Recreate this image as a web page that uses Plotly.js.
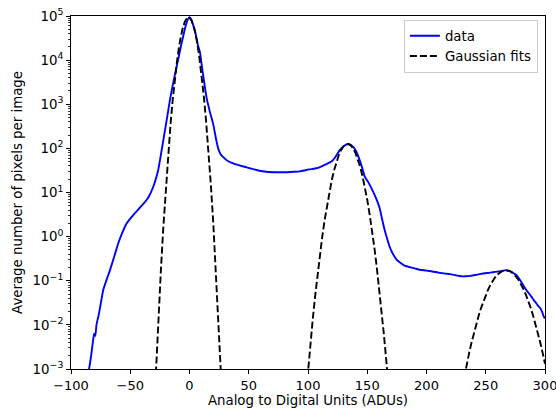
<!DOCTYPE html>
<html>
<head>
<meta charset="utf-8">
<script src="https://cdn.plot.ly/plotly-3.0.1.min.js"></script>
<style>html,body{margin:0;padding:0;background:#fff;}#chart{width:556px;height:410px;}</style>
</head>
<body>
<div id="chart"></div>
<script>
// Measured spectrum (blue line)
const dataX = [-85, -83, -81.7, -80.5, -79.5, -78.5, -76.4, -74.5, -72.8, -70, -67.1, -63.5, -60.1, -56.5, -53, -50, -47.5, -44.5, -41.8, -39, -36.2, -33.5, -30.6, -28.5, -26.4, -25, -23.5, -22, -20.7, -18, -16.5, -14, -10.9, -8.5, -6.7, -5, -3, -1.5, 0, 1.5, 3, 5, 7, 8.8, 11, 14.4, 17, 20, 22.5, 24.2, 26, 28.5, 32, 36.8, 44, 50.9, 58, 65, 73, 81.9, 88, 93.1, 98.7, 103, 107.2, 112, 116, 119.8, 123, 126.8, 130, 133.8, 136, 138.5, 140.9, 143, 145.5, 147.9, 150.7, 153.5, 156.3, 158.5, 160.5, 162.5, 164.7, 166.8, 168.9, 171, 173.2, 175.5, 177.4, 181, 185.8, 190, 194.3, 200, 205, 211, 216, 220, 225, 229.4, 233, 237, 241, 244.9, 249, 253, 257, 261, 264, 266.8, 269, 271, 273, 275.8, 278, 280, 282, 284.2, 286.5, 288.5, 290.5, 292.7, 294.5, 296, 297.5, 299.1, 300];
const dataY = [8.9e-4, 2.0e-3, 3.8e-3, 6.3e-3, 5.6e-3, 0.010, 0.018, 0.035, 0.062, 0.105, 0.174, 0.355, 0.71, 1.26, 2.0, 2.57, 3.09, 3.8, 4.57, 5.5, 6.76, 8.9, 13.5, 20, 32.4, 52.5, 91, 158, 257, 708, 1259, 2818, 7079, 14125, 23990, 38020, 63100, 83180, 93330, 83180, 63100, 41690, 22390, 15140, 5623, 1413, 708, 355, 158, 100, 75.9, 63.1, 52.5, 45.7, 39.8, 35.5, 31.6, 29.5, 28.8, 28.8, 29.5, 30.2, 32.4, 33.9, 35.5, 39.8, 44.7, 50.1, 63.1, 91.2, 112, 126, 120, 105, 83.2, 60.3, 38.0, 22.9, 17.4, 12.6, 8.71, 6.31, 4.37, 2.51, 1.41, 0.891, 0.589, 0.437, 0.347, 0.288, 0.263, 0.224, 0.204, 0.191, 0.178, 0.170, 0.162, 0.151, 0.145, 0.141, 0.132, 0.126, 0.126, 0.129, 0.135, 0.141, 0.148, 0.151, 0.158, 0.162, 0.166, 0.174, 0.170, 0.162, 0.151, 0.135, 0.112, 0.0933, 0.0759, 0.0617, 0.0513, 0.0437, 0.0363, 0.0309, 0.0263, 0.024, 0.020, 0.0151, 0.0141];

// Gaussian fit curves (dashed black)
const fit1X = [-30, -28, -26, -24, -22, -20, -18, -16, -14, -12, -10, -8, -6, -4, -2, 0, 2, 4, 6, 8, 10, 12, 14, 16, 18, 20, 22, 24, 26, 28];
const fit1Y = [9.86e-5, 1.53e-3, 0.0196, 0.206, 1.78, 12.7, 74.3, 357, 1416, 4613, 12360, 27290, 49430, 73790, 90600, 91500, 76000, 52000, 29170, 13490, 5140, 1607, 414, 87.7, 15.3, 2.19, 0.258, 0.025, 2.0e-3, 1.3e-4];
const fit2X = [98, 100, 102, 104, 106, 108, 110, 112, 114, 116, 118, 120, 122, 124, 126, 128, 130, 132, 134, 136, 138, 140, 142, 144, 146, 148, 150, 152, 154, 156, 158, 160, 162, 164, 166, 168];
const fit2Y = [2.16e-4, 9.3e-4, 3.66e-3, 0.0133, 0.0443, 0.1355, 0.381, 0.984, 2.34, 5.09, 10.2, 18.8, 31.8, 49.3, 70.5, 92.5, 111.4, 123.3, 125.4, 117.2, 100.7, 79.4, 57.5, 38.3, 23.4, 13.2, 6.79, 3.22, 1.41, 0.562, 0.207, 0.070, 0.0217, 6.2e-3, 1.63e-3, 3.9e-4];
const fit3X = [230, 232, 234, 236, 238, 240, 242, 244, 246, 248, 250, 252, 254, 256, 258, 260, 262, 264, 266, 268, 270, 272, 274, 276, 278, 280, 282, 284, 286, 288, 290, 292, 294, 296, 298, 300];
const fit3Y = [3.7e-4, 7.1e-4, 1.31e-3, 2.32e-3, 3.98e-3, 6.58e-3, 0.0105, 0.0161, 0.0240, 0.0344, 0.0474, 0.0632, 0.0813, 0.101, 0.121, 0.139, 0.155, 0.167, 0.173, 0.173, 0.167, 0.155, 0.139, 0.121, 0.101, 0.0813, 0.0632, 0.0474, 0.0344, 0.0240, 0.0161, 0.0105, 6.58e-3, 3.98e-3, 2.32e-3, 1.31e-3];

const xTicks = [-100, -50, 0, 50, 100, 150, 200, 250, 300];
const yExponents = [-3, -2, -1, 0, 1, 2, 3, 4, 5];

const yTickVals = yExponents.map(e => Math.pow(10, e));
const yTickText = yExponents.map(e => '10<sup>' + (e < 0 ? '\u2212' + (-e) : e) + '</sup>');
const minorVals = [];
for (let e = -3; e < 5; e++) for (let m = 2; m <= 9; m++) minorVals.push(m * Math.pow(10, e));

const FONT = {family: 'DejaVu Sans, sans-serif', size: 13.33, color: '#000'};
const XTICKFONT = {family: 'DejaVu Sans, sans-serif', size: 13, color: '#000'};
const dashStyle = {color: '#000', width: 1.9, dash: '7px,3px'};

const traces = [
  {x: dataX, y: dataY, type: 'scatter', mode: 'lines', name: 'data', line: {color: '#0000ff', width: 1.9, shape: 'spline', smoothing: 0.5}},
  {x: fit1X, y: fit1Y, type: 'scatter', mode: 'lines', name: 'Gaussian fits', legendgroup: 'fit', line: dashStyle},
  {x: fit2X, y: fit2Y, type: 'scatter', mode: 'lines', name: 'Gaussian fits', legendgroup: 'fit', showlegend: false, line: dashStyle},
  {x: fit3X, y: fit3Y, type: 'scatter', mode: 'lines', name: 'Gaussian fits', legendgroup: 'fit', showlegend: false, line: dashStyle}
];

const layout = {
  width: 556, height: 410,
  margin: {l: 71, r: 11, t: 16, b: 41},
  paper_bgcolor: '#fff', plot_bgcolor: '#fff',
  font: FONT,
  showlegend: true,
  legend: {x: 0.985, y: 0.99, xanchor: 'right', yanchor: 'top', bgcolor: 'rgba(255,255,255,0.8)', bordercolor: '#cccccc', borderwidth: 1, font: FONT, tracegroupgap: 0},
  xaxis: {
    range: [-100, 300], tickmode: 'array', tickvals: xTicks, ticktext: xTicks.map(v => v < 0 ? '\u2212' + (-v) : String(v)),
    showgrid: false, zeroline: false, showline: true, mirror: true, linecolor: '#000', linewidth: 1,
    ticks: 'outside', ticklen: 4, tickwidth: 1, tickcolor: '#000', tickfont: XTICKFONT, automargin: false, ticklabeloverflow: 'allow',
    title: {text: 'Analog to Digital Units (ADUs)', font: FONT, standoff: 4}
  },
  yaxis: {
    type: 'log', range: [-3, 5], tickmode: 'array', tickvals: yTickVals, ticktext: yTickText,
    showgrid: false, zeroline: false, showline: true, mirror: true, linecolor: '#000', linewidth: 1,
    ticks: 'outside', ticklen: 4, tickwidth: 1, tickcolor: '#000', tickfont: FONT, automargin: false, ticklabeloverflow: 'allow',
    minor: {tickmode: 'array', tickvals: minorVals, ticks: 'outside', ticklen: 2, tickwidth: 0.8, tickcolor: '#000', showgrid: false},
    title: {text: 'Average number of pixels per image', font: FONT, standoff: 6}
  }
};

Plotly.newPlot('chart', traces, layout, {staticPlot: true, displayModeBar: false});
</script>
</body>
</html>
